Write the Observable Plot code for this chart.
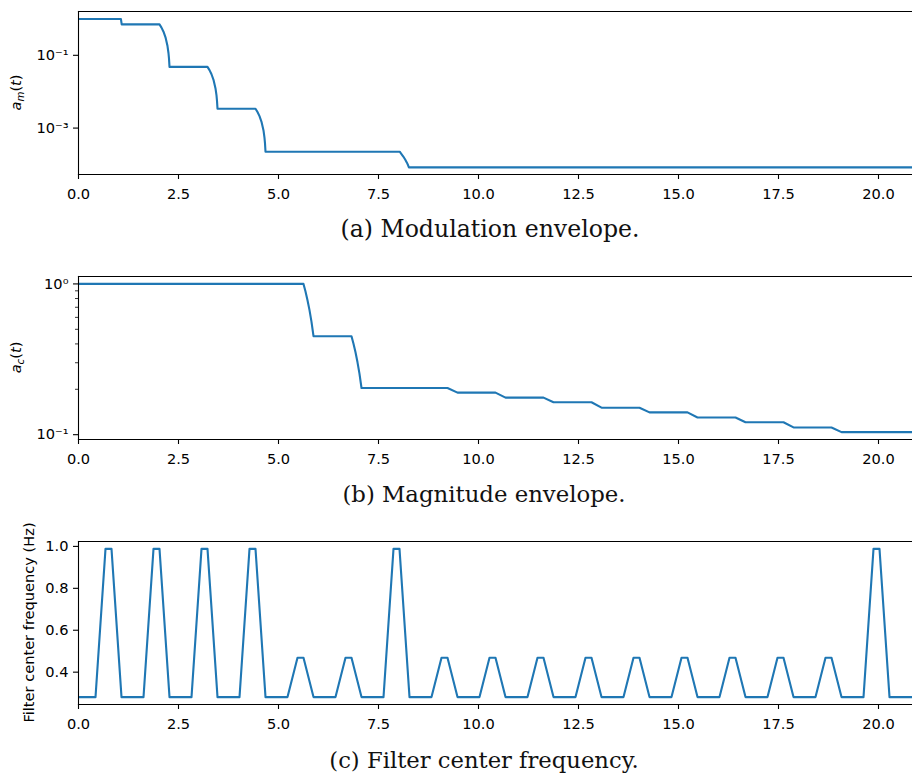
<!DOCTYPE html>
<html><head><meta charset="utf-8">
<script src="https://cdn.jsdelivr.net/npm/d3@7"></script>
<script src="https://cdn.jsdelivr.net/npm/@observablehq/plot@0.6"></script>
<style>
html,body{margin:0;padding:0;background:#fff}
#root{width:912px;height:773px;overflow:hidden;position:relative}
#root svg{display:block;overflow:visible}
</style></head><body><div id="root"></div>
<script>
// ---------- data ----------
const xTicks = [0, 2.5, 5, 7.5, 10, 12.5, 15, 17.5, 20];

// (a) Modulation envelope a_m(t)
const modT = [0, 1.06, 1.08,
  2.025, 2.075, 2.125, 2.175, 2.225, 2.25, 2.2625, 2.275,
  3.225, 3.275, 3.325, 3.375, 3.425, 3.45, 3.4625, 3.475,
  4.425, 4.475, 4.525, 4.575, 4.625, 4.65, 4.6625, 4.675,
  8.03, 8.07, 8.12, 8.17, 8.21, 8.24, 8.26, 21];
const modA = [1.0, 1.0, 0.71,
  0.71, 0.578, 0.445, 0.313, 0.180, 0.114, 0.081, 0.048,
  0.048, 0.0391, 0.0302, 0.0212, 0.0123, 0.0079, 0.0056, 0.0034,
  0.0034, 0.00276, 0.00213, 0.00149, 0.00086, 0.00054, 0.00038, 0.000224,
  0.000224, 0.000195, 0.000165, 0.000135, 0.000112, 0.000095, 0.000083, 0.000083];
const modTicks = [0.1, 0.001];
const modTickLabels = ["10⁻¹", "10⁻³"];

// (b) Magnitude envelope a_c(t)
const magT = [0, 5.625, 5.675, 5.725, 5.775, 5.825, 5.875,
  6.825, 6.875, 6.925, 6.975, 7.025, 7.075,
  9.225, 9.475, 10.425, 10.675, 11.625, 11.875, 12.825, 13.075,
  14.025, 14.275, 15.225, 15.475, 16.425, 16.675, 17.625, 17.875,
  18.825, 19.075, 21];
const magA = [1.0, 1.0, 0.89, 0.78, 0.67, 0.56, 0.45,
  0.45, 0.401, 0.352, 0.302, 0.253, 0.204,
  0.204, 0.190, 0.190, 0.176, 0.176, 0.164, 0.164, 0.151,
  0.151, 0.1406, 0.1406, 0.130, 0.130, 0.121, 0.121, 0.1117,
  0.1117, 0.104, 0.104];
const magTicks = [1, 0.1];
const magTickLabels = ["10⁰", "10⁻¹"];
const magMinorTicks = [0.2, 0.3, 0.4, 0.5, 0.6, 0.7, 0.8, 0.9];

// (c) Filter center frequency (Hz)
const freqT = [0,
  0.425, 0.675, 0.825, 1.075,
  1.625, 1.875, 2.025, 2.275,
  2.825, 3.075, 3.225, 3.475,
  4.025, 4.275, 4.425, 4.675,
  5.225, 5.475, 5.625, 5.875,
  6.425, 6.675, 6.825, 7.075,
  7.625, 7.875, 8.025, 8.275,
  8.825, 9.075, 9.225, 9.475,
  10.025, 10.275, 10.425, 10.675,
  11.225, 11.475, 11.625, 11.875,
  12.425, 12.675, 12.825, 13.075,
  13.625, 13.875, 14.025, 14.275,
  14.825, 15.075, 15.225, 15.475,
  16.025, 16.275, 16.425, 16.675,
  17.225, 17.475, 17.625, 17.875,
  18.425, 18.675, 18.825, 19.075,
  19.625, 19.875, 20.025, 20.275,
  21];
const freqF = [0.281,
  0.281, 0.988, 0.988, 0.281,
  0.281, 0.988, 0.988, 0.281,
  0.281, 0.988, 0.988, 0.281,
  0.281, 0.988, 0.988, 0.281,
  0.281, 0.469, 0.469, 0.281,
  0.281, 0.469, 0.469, 0.281,
  0.281, 0.988, 0.988, 0.281,
  0.281, 0.469, 0.469, 0.281,
  0.281, 0.469, 0.469, 0.281,
  0.281, 0.469, 0.469, 0.281,
  0.281, 0.469, 0.469, 0.281,
  0.281, 0.469, 0.469, 0.281,
  0.281, 0.469, 0.469, 0.281,
  0.281, 0.469, 0.469, 0.281,
  0.281, 0.469, 0.469, 0.281,
  0.281, 0.469, 0.469, 0.281,
  0.281, 0.988, 0.988, 0.281,
  0.281];
const freqTicks = [0.4, 0.6, 0.8, 1.0];
const freqTickLabels = ["0.4", "0.6", "0.8", "1.0"];

const captions = ["(a) Modulation envelope.", "(b) Magnitude envelope.", "(c) Filter center frequency."];

// ---------- drawing ----------
const root = document.getElementById("root");
const FS = 14.6;

function panel(o) {
  const data = o.t.map((x, i) => ({t: x, v: o.v[i]}));
  const labelMap = new Map(o.yTicks.map((d, i) => [d, o.yLabels[i]]));
  const marks = [
    Plot.line(data, {x: "t", y: "v", stroke: "#1f77b4", strokeWidth: 2.1, clip: true}),
    Plot.axisX({ticks: xTicks, tickFormat: d3.format(".1f"), tickSize: 5, tickPadding: 9, label: null, strokeWidth: 1.1}),
    Plot.axisY({ticks: o.yTicks, tickFormat: d => labelMap.get(d), tickSize: 5, tickPadding: 5, label: null, strokeWidth: 1.1}),
    Plot.frame({anchor: "top", strokeWidth: 1.1}),
    Plot.frame({anchor: "bottom", strokeWidth: 1.1}),
    Plot.frame({anchor: "left", strokeWidth: 1.1})
  ];
  if (o.yMinor) marks.push(Plot.axisY({ticks: o.yMinor, tickSize: 3, tickFormat: () => "", label: null, strokeWidth: 0.8}));
  const svg = Plot.plot({
    width: 912, height: o.height,
    marginLeft: 78, marginRight: 0, marginTop: 11, marginBottom: o.height - 174,
    x: {domain: [0, 20.85]},
    y: {type: o.yType, domain: o.yDomain},
    style: {fontFamily: "DejaVu Sans", fontSize: FS + "px", color: "black", background: "transparent", overflow: "visible"},
    marks
  });
  const s = d3.select(svg);
  // y label
  const lab = s.append("text")
    .attr("transform", `translate(${o.ylabelX},92.5) rotate(-90)`)
    .attr("text-anchor", "middle")
    .attr("font-family", "DejaVu Sans")
    .attr("font-size", FS)
    .attr("fill", "black");
  if (o.sub) {
    lab.append("tspan").attr("font-style", "italic").text("a");
    lab.append("tspan").attr("font-style", "italic").attr("font-size", "70%").attr("dy", 3).text(o.sub);
    lab.append("tspan").attr("dy", -3).text("(");
    lab.append("tspan").attr("font-style", "italic").text("t");
    lab.append("tspan").text(")");
  } else {
    lab.text(o.ylabel);
  }
  // caption
  s.append("text")
    .attr("x", o.captionX).attr("y", o.captionY)
    .attr("text-anchor", "middle")
    .attr("font-family", "DejaVu Serif")
    .attr("font-size", o.captionSize)
    .attr("fill", "#111")
    .text(o.caption);
  root.appendChild(svg);
}

panel({t: modT, v: modA, yType: "log", yDomain: [5.3e-5, 1.6], yTicks: modTicks, yLabels: modTickLabels,
  height: 265, sub: "m", ylabelX: 21, caption: captions[0], captionX: 490, captionY: 237, captionSize: 23.6});
panel({t: magT, v: magA, yType: "log", yDomain: [0.0929, 1.12], yTicks: magTicks, yLabels: magTickLabels, yMinor: magMinorTicks,
  height: 265, sub: "c", ylabelX: 21, caption: captions[1], captionX: 484, captionY: 237, captionSize: 22.8});
panel({t: freqT, v: freqF, yType: "linear", yDomain: [0.2457, 1.0234], yTicks: freqTicks, yLabels: freqTickLabels,
  height: 243, ylabel: "Filter center frequency (Hz)", ylabelX: 34, caption: captions[2], captionX: 484, captionY: 238, captionSize: 22.7});
</script></body></html>
